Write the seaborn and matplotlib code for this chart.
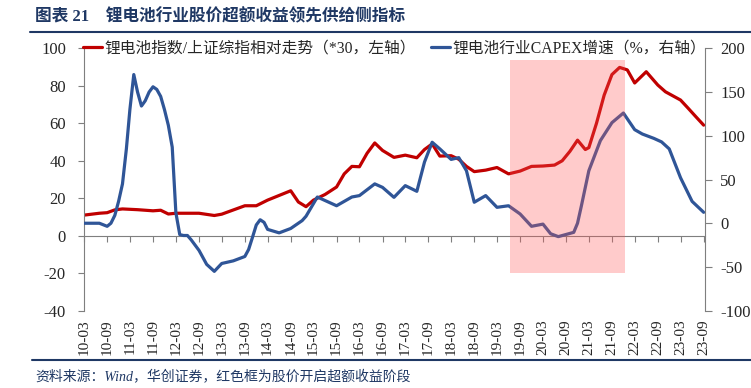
import pandas as pd
import matplotlib.pyplot as plt
import matplotlib.dates as mdates
from matplotlib.lines import Line2D
from matplotlib.patches import Rectangle
import seaborn as sns

# lithium battery index / SSE composite (x30), left axis
red_dates = ['2010-03', '2010-07', '2010-09', '2010-11', '2011-01', '2011-05', '2011-09', '2011-11',
             '2012-01', '2012-03', '2012-09', '2013-01', '2013-03', '2013-09', '2013-12', '2014-03',
             '2014-06', '2014-09', '2014-11', '2015-01', '2015-03', '2015-06', '2015-09', '2015-11',
             '2016-01', '2016-03', '2016-05', '2016-07', '2016-09', '2016-12', '2017-03', '2017-06',
             '2017-08', '2017-10', '2017-12', '2018-03', '2018-05', '2018-07', '2018-09', '2018-12',
             '2019-03', '2019-06', '2019-09', '2019-12', '2020-03', '2020-06', '2020-08', '2020-10',
             '2020-12', '2021-02', '2021-03', '2021-05', '2021-07', '2021-09', '2021-11', '2022-01',
             '2022-03', '2022-06', '2022-09', '2022-11', '2023-03', '2023-05', '2023-07', '2023-09']
red_values = [11, 12, 12.3, 13.8, 14.3, 13.9, 13.3, 13.6,
              11.6, 12, 12, 10.8, 11.5, 16, 16, 19,
              21.5, 24, 18, 15.5, 19, 22, 26, 33,
              37, 36.8, 44, 49.5, 45.5, 41.8, 43, 41.6,
              46, 49, 42.5, 42.7, 40.8, 37, 34.2, 35,
              36.4, 33, 34.5, 37, 37.2, 37.7, 40, 45,
              51, 46, 47, 60, 75, 86, 89.8, 88.5,
              81.5, 87.5, 80.4, 76.8, 72.4, 68, 63.5, 59]

# lithium battery industry CAPEX growth (%), right axis
blue_dates = ['2010-03', '2010-07', '2010-09', '2010-10', '2010-11', '2010-12', '2011-01', '2011-02',
              '2011-03', '2011-04', '2011-05', '2011-06', '2011-07', '2011-08', '2011-09', '2011-10',
              '2011-11', '2011-12', '2012-01', '2012-02', '2012-03', '2012-04', '2012-05', '2012-06',
              '2012-07', '2012-09', '2012-11', '2013-01', '2013-03', '2013-06', '2013-09', '2013-10',
              '2013-11', '2013-12', '2014-01', '2014-02', '2014-03', '2014-06', '2014-09', '2014-12',
              '2015-01', '2015-04', '2015-06', '2015-09', '2016-01', '2016-03', '2016-07', '2016-09',
              '2016-12', '2017-03', '2017-06', '2017-08', '2017-10', '2017-12', '2018-03', '2018-05',
              '2018-07', '2018-09', '2018-12', '2019-03', '2019-06', '2019-09', '2019-12', '2020-03',
              '2020-05', '2020-07', '2020-11', '2020-12', '2021-01', '2021-03', '2021-06', '2021-09',
              '2021-12', '2022-03', '2022-05', '2022-08', '2022-10', '2022-12', '2023-03', '2023-06',
              '2023-09']
blue_values = [0, 0, -3.5, 0, 9, 25, 45, 85,
               130, 170, 150, 134, 140, 150, 156, 153,
               145, 130, 112, 87, 12, -13, -14, -14,
               -19, -31, -47, -55, -46, -43, -38, -30,
               -16, -2, 4, 1, -7, -11, -6, 3,
               8, 30, 26, 20, 30, 31.6, 45, 41,
               29.6, 43, 36.5, 70, 92.6, 85, 73, 75,
               60, 24, 31.6, 18.2, 20, 10.6, -3.5, -1,
               -12, -15.3, -10.4, 0, 20, 60, 94.5, 115,
               126, 107, 102, 97, 93, 85, 52, 25,
               12.5]

tick_dates = pd.date_range('2010-03-01', '2023-09-01', freq='6MS')
tick_labels = [d.strftime('%y-%m') for d in tick_dates]
left_ticks = [-40, -20, 0, 20, 40, 60, 80, 100]
right_ticks = [-100, -50, 0, 50, 100, 150, 200]

# red box marks the stage where the share price starts to earn excess return
box_start, box_end = '2019-06-15', '2021-12-10'
box_low, box_high = -20, 94

red_label = '锂电池指数/上证综指相对走势（*30，左轴）'
blue_label = '锂电池行业CAPEX增速（%，右轴）'
title = '图表 21　锂电池行业股价超额收益领先供给侧指标'
source = '资料来源：Wind，华创证券，红色框为股价开启超额收益阶段'

red_df = pd.DataFrame({'date': pd.to_datetime(red_dates), 'value': red_values})
blue_df = pd.DataFrame({'date': pd.to_datetime(blue_dates), 'value': blue_values})

sns.set_style('ticks')
plt.rcParams['font.family'] = ['Liberation Serif', 'Noto Sans CJK SC']
plt.rcParams['axes.unicode_minus'] = False

navy = '#1F3864'
grey = '#7F7F7F'

fig = plt.figure(figsize=(7.51, 3.88), dpi=100)
ax = fig.add_axes([0.1119, 0.1992, 0.8269, 0.6763])
ax2 = ax.twinx()

sns.lineplot(data=red_df, x='date', y='value', ax=ax, color='#C00000', lw=2.3,
             label=red_label, legend=False)
sns.lineplot(data=blue_df, x='date', y='value', ax=ax2, color='#2F5597', lw=2.3,
             label=blue_label, legend=False)

ax.set_xlim(pd.Timestamp('2010-03-01'), pd.Timestamp('2023-09-12'))
ax.set_ylim(-40, 100)
ax2.set_ylim(-100, 200)
ax.set_yticks(left_ticks)
ax2.set_yticks(right_ticks)
ax.set_xticks(tick_dates)
ax.set_xticklabels(tick_labels)
for a in (ax, ax2):
    a.set_xlabel('')
    a.set_ylabel('')

ax.spines['top'].set_visible(False)
ax.spines['right'].set_visible(False)
ax.spines['bottom'].set_position(('data', 0))
for s in ('top', 'bottom', 'left'):
    ax2.spines[s].set_visible(False)
for s in ('left', 'bottom'):
    ax.spines[s].set_color(grey)
ax2.spines['right'].set_color(grey)

ax.tick_params(axis='x', labelbottom=False, direction='out', length=4, color=grey)
ax.tick_params(axis='y', direction='out', length=4, color=grey, labelsize=12, pad=9)
ax2.tick_params(axis='y', direction='out', length=5, color=grey, labelsize=12, pad=6)
ax2.xaxis.set_visible(True)
ax2.tick_params(axis='x', length=0, labelbottom=True, labelrotation=90, labelsize=11, pad=6)

x0 = mdates.date2num(pd.Timestamp(box_start))
x1 = mdates.date2num(pd.Timestamp(box_end))
ax2.add_patch(Rectangle((x0, box_low), x1 - x0, box_high - box_low, transform=ax.transData,
                        facecolor='#FF5555', alpha=0.3, lw=0, zorder=5))

handles = ax.get_legend_handles_labels()[0] + ax2.get_legend_handles_labels()[0]
ax2.legend(handles, [red_label, blue_label], loc='center', bbox_to_anchor=(0.5, 1.0), ncol=2,
           frameon=False, fontsize=11.3, handlelength=1.2, handletextpad=0.15, columnspacing=1.0,
           borderaxespad=0)

fig.text(35 / 751, 1 - 17 / 388, title, fontsize=12, fontweight='bold', color=navy, va='center')
fig.add_artist(Line2D([30 / 751, 1], [1 - 32 / 388] * 2, color=navy, lw=1.5))
fig.add_artist(Line2D([32 / 751, 1], [1 - 360 / 388] * 2, color=navy, lw=1.5))
fig.text(35 / 751, 1 - 376 / 388, source, fontsize=10, style='italic', color=navy, va='center')

fig.savefig('out.png', dpi=100)
